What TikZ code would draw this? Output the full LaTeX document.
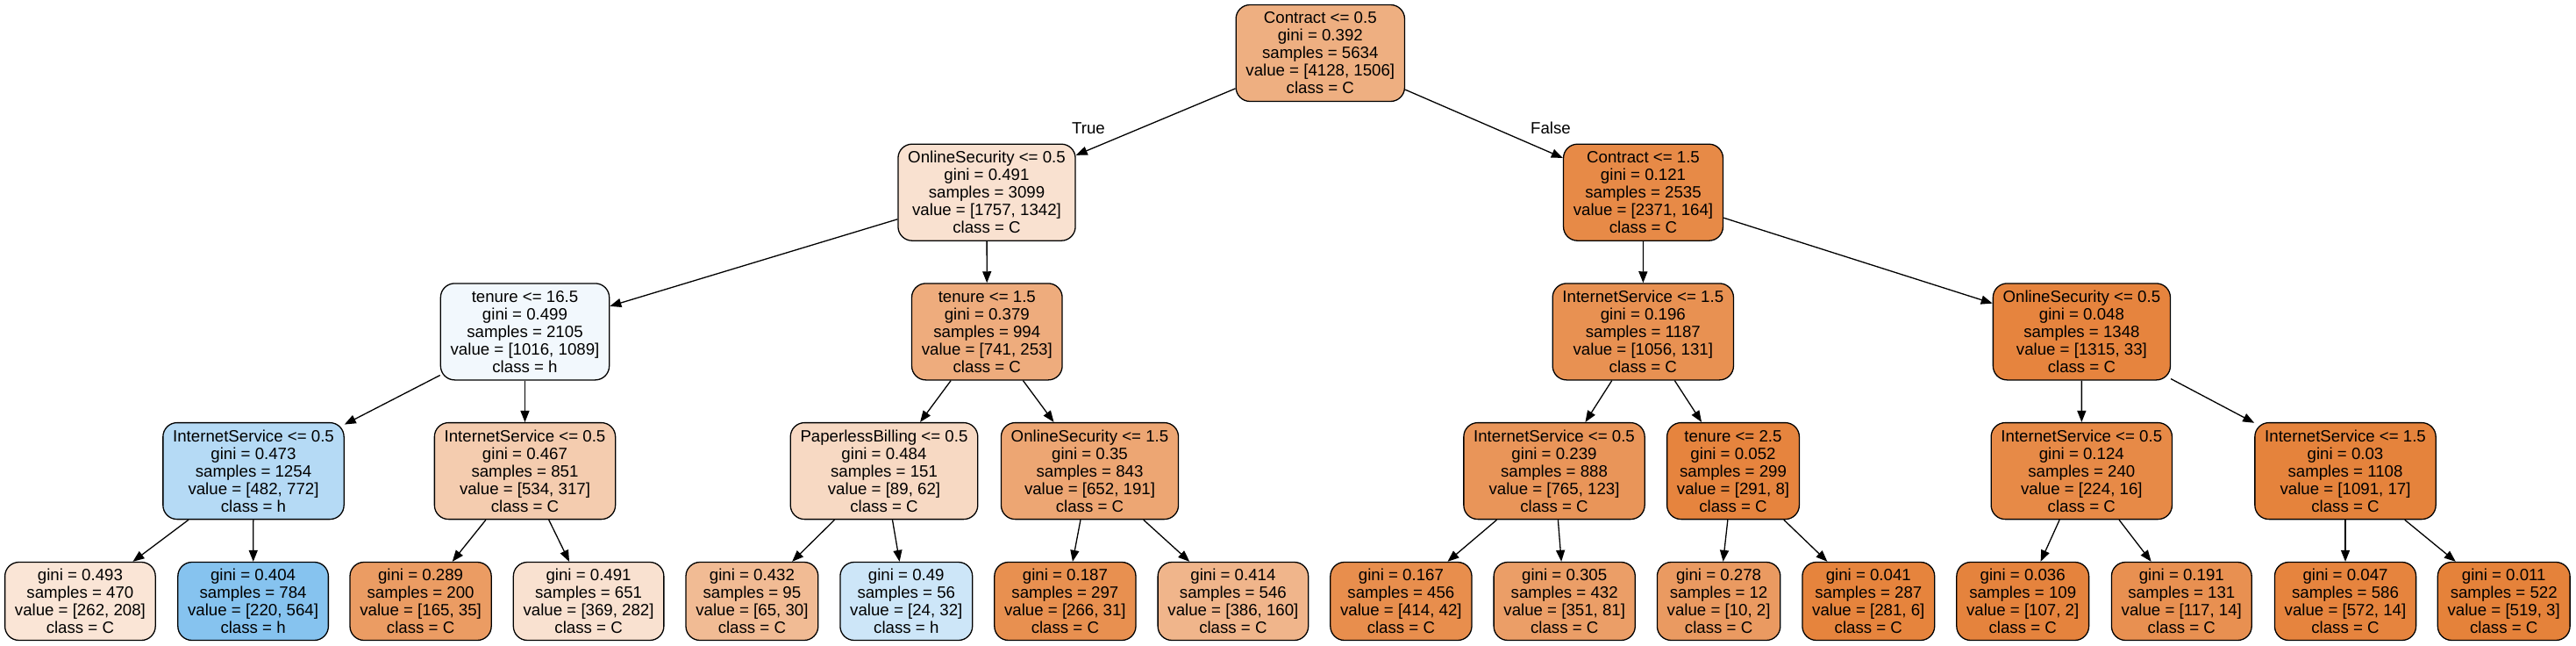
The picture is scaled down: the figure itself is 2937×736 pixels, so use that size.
\documentclass[tikz,border=0pt]{standalone}
\usepackage{fontspec}
\setmainfont{Liberation Sans}
\usetikzlibrary{arrows.meta}
\definecolor{cC}{RGB}{229,129,57}
\definecolor{cH}{RGB}{57,157,229}
\begin{document}
\begin{tikzpicture}[x=1pt,y=-1pt,
  every node/.style={font=\fontsize{18.67pt}{20pt}\selectfont},
  tnode/.style={draw=black, line width=1.3pt, rounded corners=16pt, align=center,
    inner xsep=11.3pt, inner ysep=0pt, minimum height=110pt},
  lnode/.style={tnode, minimum height=89pt},
  arr/.style={draw=black, line width=1.3pt, -{Triangle[length=13pt,width=10pt]}},
  lbl/.style={inner sep=0pt}]
\fill[white] (0,0) rectangle (2937,736);
\useasboundingbox (0,0) rectangle (2937,736);
% level 0
\node[tnode, fill=cC!63.5!white] (r) at (1505.3,60.5) {Contract <= 0.5\\gini = 0.392\\samples = 5634\\value = [4128, 1506]\\class = C};
% level 1
\node[tnode, fill=cC!23.6!white] (n1) at (1125,219.2) {OnlineSecurity <= 0.5\\gini = 0.491\\samples = 3099\\value = [1757, 1342]\\class = C};
\node[tnode, fill=cC!93.1!white] (n2) at (1873.5,219.2) {Contract <= 1.5\\gini = 0.121\\samples = 2535\\value = [2371, 164]\\class = C};
% level 2
\node[tnode, fill=cH!6.7!white] (n3) at (598.5,377.9) {tenure <= 16.5\\gini = 0.499\\samples = 2105\\value = [1016, 1089]\\class = h};
\node[tnode, fill=cC!65.9!white] (n4) at (1125.3,377.9) {tenure <= 1.5\\gini = 0.379\\samples = 994\\value = [741, 253]\\class = C};
\node[tnode, fill=cC!87.6!white] (n5) at (1873.3,377.9) {InternetService <= 1.5\\gini = 0.196\\samples = 1187\\value = [1056, 131]\\class = C};
\node[tnode, fill=cC!97.5!white] (n6) at (2373.4,377.9) {OnlineSecurity <= 0.5\\gini = 0.048\\samples = 1348\\value = [1315, 33]\\class = C};
% level 3
\node[tnode, fill=cH!37.6!white] (n7) at (289,536.6) {InternetService <= 0.5\\gini = 0.473\\samples = 1254\\value = [482, 772]\\class = h};
\node[tnode, fill=cC!40.6!white] (n8) at (598.5,536.6) {InternetService <= 0.5\\gini = 0.467\\samples = 851\\value = [534, 317]\\class = C};
\node[tnode, fill=cC!30.3!white] (n9) at (1008,536.6) {PaperlessBilling <= 0.5\\gini = 0.484\\samples = 151\\value = [89, 62]\\class = C};
\node[tnode, fill=cC!70.7!white] (n10) at (1242.5,536.6) {OnlineSecurity <= 1.5\\gini = 0.35\\samples = 843\\value = [652, 191]\\class = C};
\node[tnode, fill=cC!83.9!white] (n11) at (1772,536.6) {InternetService <= 0.5\\gini = 0.239\\samples = 888\\value = [765, 123]\\class = C};
\node[tnode, fill=cC!97.3!white] (n12) at (1976,536.6) {tenure <= 2.5\\gini = 0.052\\samples = 299\\value = [291, 8]\\class = C};
\node[tnode, fill=cC!92.9!white] (n13) at (2373.3,536.6) {InternetService <= 0.5\\gini = 0.124\\samples = 240\\value = [224, 16]\\class = C};
\node[tnode, fill=cC!98.4!white] (n14) at (2674,536.6) {InternetService <= 1.5\\gini = 0.03\\samples = 1108\\value = [1091, 17]\\class = C};
% leaves
\node[lnode, fill=cC!20.6!white] (l1) at (91.4,685) {gini = 0.493\\samples = 470\\value = [262, 208]\\class = C};
\node[lnode, fill=cH!61.0!white] (l2) at (288.6,685) {gini = 0.404\\samples = 784\\value = [220, 564]\\class = h};
\node[lnode, fill=cC!78.8!white] (l3) at (479.6,685) {gini = 0.289\\samples = 200\\value = [165, 35]\\class = C};
\node[lnode, fill=cC!23.6!white] (l4) at (671.1,685) {gini = 0.491\\samples = 651\\value = [369, 282]\\class = C};
\node[lnode, fill=cC!53.8!white] (l5) at (857.4,685) {gini = 0.432\\samples = 95\\value = [65, 30]\\class = C};
\node[lnode, fill=cH!25!white] (l6) at (1033.3,685) {gini = 0.49\\samples = 56\\value = [24, 32]\\class = h};
\node[lnode, fill=cC!88.3!white] (l7) at (1214.4,685) {gini = 0.187\\samples = 297\\value = [266, 31]\\class = C};
\node[lnode, fill=cC!58.5!white] (l8) at (1405.9,685) {gini = 0.414\\samples = 546\\value = [386, 160]\\class = C};
\node[lnode, fill=cC!89.9!white] (l9) at (1597.4,685) {gini = 0.167\\samples = 456\\value = [414, 42]\\class = C};
\node[lnode, fill=cC!76.9!white] (l10) at (1783.7,685) {gini = 0.305\\samples = 432\\value = [351, 81]\\class = C};
\node[lnode, fill=cC!80!white] (l11) at (1959.6,685) {gini = 0.278\\samples = 12\\value = [10, 2]\\class = C};
\node[lnode, fill=cC!97.9!white] (l12) at (2130.3,685) {gini = 0.041\\samples = 287\\value = [281, 6]\\class = C};
\node[lnode, fill=cC!98.1!white] (l13) at (2306.2,685) {gini = 0.036\\samples = 109\\value = [107, 2]\\class = C};
\node[lnode, fill=cC!88.0!white] (l14) at (2487.3,685) {gini = 0.191\\samples = 131\\value = [117, 14]\\class = C};
\node[lnode, fill=cC!97.6!white] (l15) at (2674,685) {gini = 0.047\\samples = 586\\value = [572, 14]\\class = C};
\node[lnode, fill=cC!99.4!white] (l16) at (2854.7,685) {gini = 0.011\\samples = 522\\value = [519, 3]\\class = C};
% edges
\draw[arr] (r) -- (n1);
\draw[arr] (r) -- (n2);
\draw[arr] (n1) -- (n3);
\draw[arr] (n1) -- (n4);
\draw[arr] (n2) -- (n5);
\draw[arr] (n2) -- (n6);
\draw[arr] (n3) -- (n7);
\draw[arr] (n3) -- (n8);
\draw[arr] (n4) -- (n9);
\draw[arr] (n4) -- (n10);
\draw[arr] (n5) -- (n11);
\draw[arr] (n5) -- (n12);
\draw[arr] (n6) -- (n13);
\draw[arr] (n6) -- (n14);
\draw[arr] (n7) -- (l1);
\draw[arr] (n7) -- (l2);
\draw[arr] (n8) -- (l3);
\draw[arr] (n8) -- (l4);
\draw[arr] (n9) -- (l5);
\draw[arr] (n9) -- (l6);
\draw[arr] (n10) -- (l7);
\draw[arr] (n10) -- (l8);
\draw[arr] (n11) -- (l9);
\draw[arr] (n11) -- (l10);
\draw[arr] (n12) -- (l11);
\draw[arr] (n12) -- (l12);
\draw[arr] (n13) -- (l13);
\draw[arr] (n13) -- (l14);
\draw[arr] (n14) -- (l15);
\draw[arr] (n14) -- (l16);
% edge labels
\node[lbl] (tT) at (1241,146) {True};
\node[lbl] (tF) at (1768,146) {False};
\end{tikzpicture}
\end{document}
